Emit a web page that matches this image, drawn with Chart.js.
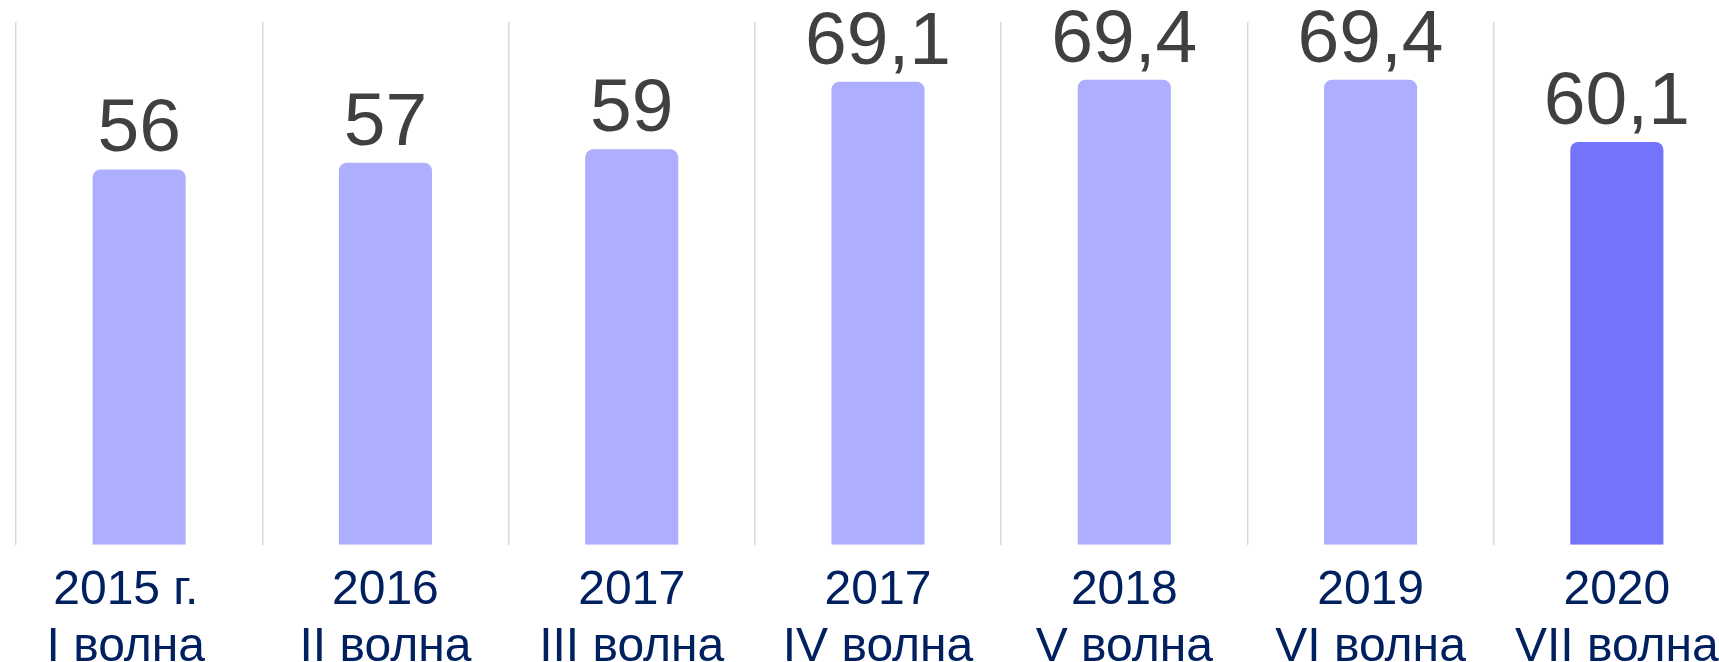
<!DOCTYPE html>
<html>
<head>
<meta charset="utf-8">
<script src="https://cdn.jsdelivr.net/npm/chart.js@4/dist/chart.umd.min.js"></script>
<style>
  html, body { margin: 0; padding: 0; background: #fff; overflow: hidden; }
  #wrap { width: 1719px; height: 662px; overflow: hidden; }
</style>
</head>
<body>
<div id="wrap"><canvas id="myChart" width="1740" height="709"></canvas></div>
<script>
const labels = [
    ['2015 г.  ', 'I волна  '],
    ['2016', 'II волна'],
    ['2017', 'III волна'],
    ['2017', 'IV волна'],
    ['2018', 'V волна'],
    ['2019', 'VI волна'],
    ['2020', 'VII волна']
];

const valores = [56, 57, 59, 69.1, 69.4, 69.4, 60.1];
const cores = valores.map((v, i) => i === valores.length - 1 ? '#7373FC' : '#AEAEFF');

// rótulos de valor acima das barras, com vírgula decimal
const valueLabels = {
    id: 'valueLabels',
    afterDatasetsDraw(chart) {
        const ctx = chart.ctx;
        const meta = chart.getDatasetMeta(0);
        ctx.save();
        ctx.font = '75px "Liberation Sans", Arial, sans-serif';
        ctx.fillStyle = '#404040';
        ctx.textAlign = 'center';
        ctx.textBaseline = 'alphabetic';
        meta.data.forEach((bar, i) => {
            const txt = String(valores[i]).replace('.', ',');
            ctx.fillText(txt, bar.x, bar.y - 18);
        });
        ctx.restore();
    }
};

const config = {
    type: 'bar',
    data: {
        labels: labels,
        datasets: [{
            data: valores,
            backgroundColor: cores,
            barPercentage: 0.378,
            categoryPercentage: 1,
            borderRadius: { topLeft: 8, topRight: 8 },
            borderSkipped: 'start'
        }]
    },
    options: {
        responsive: false,
        animation: false,
        devicePixelRatio: 1,
        layout: { padding: { left: 16, top: 22, right: 0, bottom: 15 } },
        scales: {
            y: {
                display: false,
                min: 0,
                max: 78
            },
            x: {
                border: { display: false },
                grid: {
                    color: '#d9d9d9',
                    lineWidth: 1.5,
                    drawTicks: false,
                    offset: true
                },
                ticks: {
                    color: '#002060',
                    padding: 18,
                    maxRotation: 0,
                    autoSkip: false,
                    font: { family: '"Liberation Sans", Arial, sans-serif', size: 48, lineHeight: 1.18 }
                }
            }
        },
        plugins: {
            legend: { display: false },
            tooltip: { enabled: false }
        }
    },
    plugins: [valueLabels]
};

const myChart = new Chart(document.getElementById('myChart'), config);
</script>
</body>
</html>
